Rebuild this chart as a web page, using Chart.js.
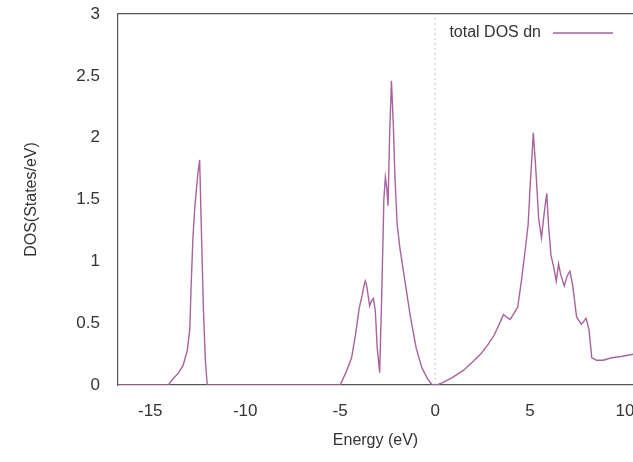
<!DOCTYPE html>
<html>
<head>
<meta charset="utf-8">
<script src="https://cdn.jsdelivr.net/npm/chart.js@4/dist/chart.umd.min.js"></script>
<style>
  body { margin: 0; background: #fff; }
  canvas { display: block; }
</style>
</head>
<body>
<canvas id="dos" width="633" height="462"></canvas>
<script>
// DOS values
const energy = [
  -16.7, -14.05, -13.8, -13.5, -13.27, -13.05, -12.92, -12.85, -12.75, -12.65, -12.5, -12.4, -12.3, -12.2, -12.1, -12.0,
  -5.0, -4.7, -4.4, -4.2, -4.0, -3.85, -3.75, -3.68, -3.6, -3.45, -3.35, -3.25, -3.15, -3.05, -2.92,
  -2.8, -2.7, -2.62, -2.55, -2.48, -2.4, -2.3, -2.2, -2.12, -2.0, -1.85, -1.6, -1.3, -1.0, -0.7, -0.4, -0.15,
  0.1, 0.4, 0.9, 1.5, 2.0, 2.4, 2.8, 3.1, 3.4, 3.6, 3.75, 3.95, 4.15, 4.35, 4.55, 4.75, 4.9, 5.0, 5.1, 5.17,
  5.3, 5.45, 5.6, 5.75, 5.88, 5.97, 6.1, 6.25, 6.38, 6.5, 6.6, 6.8, 6.95, 7.1, 7.25, 7.45, 7.7, 7.95, 8.1,
  8.25, 8.5, 8.85, 9.3, 9.8, 10.45
];
const dosDn = [
  0, 0, 0.05, 0.1, 0.16, 0.28, 0.45, 0.8, 1.2, 1.45, 1.7, 1.82, 1.2, 0.6, 0.2, 0,
  0, 0.1, 0.22, 0.4, 0.62, 0.72, 0.8, 0.84, 0.8, 0.64, 0.68, 0.7, 0.6, 0.3, 0.1,
  0.8, 1.5, 1.68, 1.6, 1.45, 2.0, 2.46, 2.1, 1.7, 1.3, 1.1, 0.85, 0.55, 0.3, 0.14, 0.05, 0,
  0, 0.02, 0.06, 0.12, 0.19, 0.25, 0.33, 0.4, 0.5, 0.57, 0.55, 0.53, 0.58, 0.63, 0.85, 1.1, 1.3, 1.6, 1.85, 2.04,
  1.75, 1.35, 1.19, 1.4, 1.55, 1.3, 1.05, 0.95, 0.84, 0.98, 0.9, 0.8, 0.88, 0.92, 0.8, 0.55, 0.49, 0.54, 0.45,
  0.22, 0.2, 0.2, 0.22, 0.23, 0.25
];
const xTicks = [-15, -10, -5, 0, 5, 10];
const yTicks = [0, 0.5, 1, 1.5, 2, 2.5, 3];
const fermiX = [0, 0];
const fermiY = [0, 3];

const lineColor = 'rgb(168,98,158)';
const font = '"Liberation Sans", Arial, sans-serif';

// legend drawn inside the plot, text first then the line sample
const insideLegend = {
  id: 'insideLegend',
  afterDatasetsDraw(chart) {
    const ctx = chart.ctx;
    const ds = chart.data.datasets[0];
    ctx.save();
    ctx.font = '16px ' + font;
    ctx.fillStyle = '#333';
    ctx.textAlign = 'right';
    ctx.textBaseline = 'middle';
    ctx.fillText(ds.label, 541, 33);
    ctx.strokeStyle = ds.borderColor;
    ctx.lineWidth = 1.5;
    ctx.beginPath();
    ctx.moveTo(553, 33);
    ctx.lineTo(613, 33);
    ctx.stroke();
    ctx.restore();
  }
};

const noPad = s => { s.paddingLeft = 0; s.paddingRight = 0; s.paddingTop = 0; s.paddingBottom = 0; };

new Chart(document.getElementById('dos'), {
  type: 'line',
  data: {
    datasets: [
      {
        label: 'total DOS dn',
        data: energy.map((e, i) => ({ x: e, y: dosDn[i] })),
        borderColor: lineColor,
        borderWidth: 1.4,
        pointRadius: 0,
        tension: 0,
        fill: false
      },
      {
        label: 'Ef',
        data: fermiX.map((e, i) => ({ x: e, y: fermiY[i] })),
        borderColor: '#c8c8c8',
        borderWidth: 1,
        borderDash: [2, 3],
        pointRadius: 0,
        fill: false
      }
    ]
  },
  options: {
    responsive: false,
    animation: false,
    layout: { padding: { top: 14, right: 0, left: 0, bottom: 0 } },
    plugins: { legend: { display: false }, tooltip: { enabled: false } },
    scales: {
      x: {
        type: 'linear',
        min: -16.7,
        max: 10.42,
        afterBuildTicks: s => { s.ticks = xTicks.map(v => ({ value: v })); },
        afterFit: s => { s.height = 77; noPad(s); },
        grid: { display: false, drawTicks: false },
        border: { display: true, color: '#555', width: 1.2 },
        ticks: { color: '#333', font: { family: font, size: 17 }, padding: 16 },
        title: { display: true, text: 'Energy (eV)', color: '#333', font: { family: font, size: 16 }, padding: { top: 0, bottom: 12 } }
      },
      x2: {
        type: 'linear',
        position: 'top',
        min: -16.7,
        max: 10.42,
        afterFit: s => { s.height = 0; noPad(s); },
        grid: { display: false, drawTicks: false },
        border: { display: true, color: '#555', width: 1.2 },
        ticks: { display: false }
      },
      y: {
        min: 0,
        max: 3,
        afterBuildTicks: s => { s.ticks = yTicks.map(v => ({ value: v })); },
        afterFit: s => { s.width = 118; noPad(s); },
        grid: { display: false, drawTicks: false },
        border: { display: true, color: '#555', width: 1.2 },
        ticks: { color: '#333', font: { family: font, size: 17 }, padding: 18, callback: v => String(v) },
        title: { display: true, text: 'DOS(States/eV)', color: '#333', font: { family: font, size: 16 }, padding: { top: 22, bottom: 0 } }
      }
    }
  },
  plugins: [insideLegend]
});
</script>
</body>
</html>
